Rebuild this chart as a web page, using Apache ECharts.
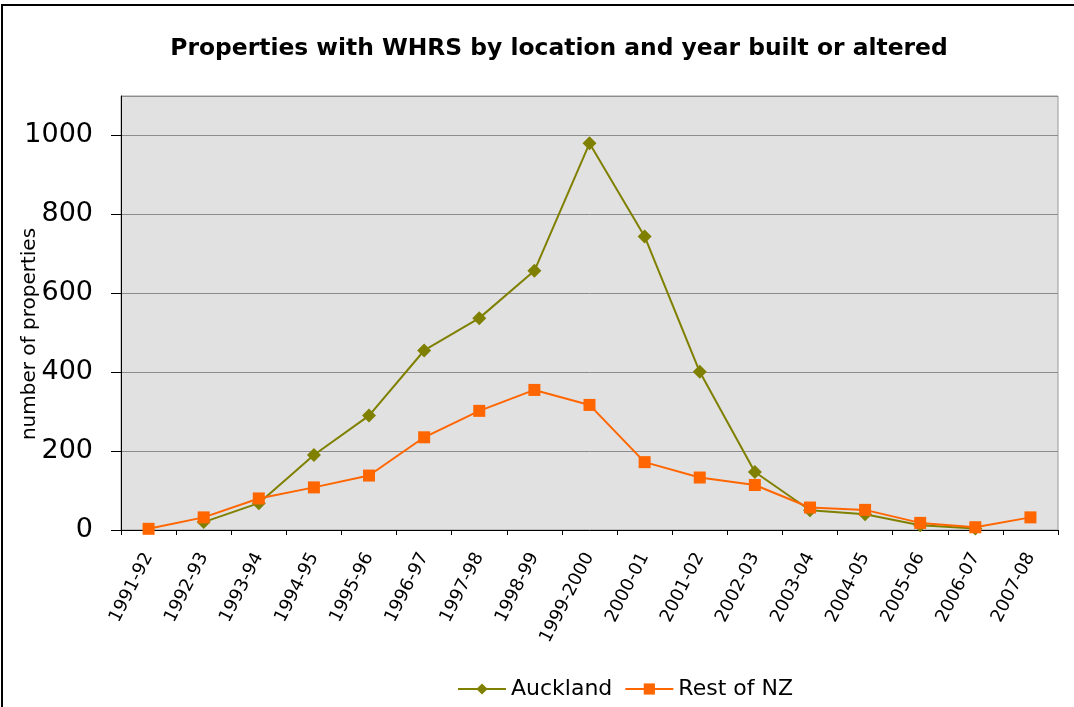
<!DOCTYPE html>
<html>
<head>
<meta charset="utf-8">
<style>
  html, body { margin: 0; padding: 0; background: #fff; }
  #chart { width: 1074px; height: 707px; }
</style>
<script src="https://cdn.jsdelivr.net/npm/echarts@6/dist/echarts.min.js"></script>
</head>
<body>
<div id="chart"></div>
<script>
// year built or altered
var years = ["1991-92", "1992-93", "1993-94", "1994-95", "1995-96", "1996-97",
  "1997-98", "1998-99", "1999-2000", "2000-01", "2001-02", "2002-03",
  "2003-04", "2004-05", "2005-06", "2006-07", "2007-08"];
var auckland = [null, 20, 68, 190, 290, 455, 537, 657, 980, 744, 401, 147, 50, 40, 12, 4, null];
var restOfNZ = [3, 32, 80, 108, 138, 235, 302, 355, 317, 172, 133, 114, 57, 51, 18, 7, 32];
var yTicks = [0, 200, 400, 600, 800, 1000];

var font = "DejaVu Sans, Liberation Sans, sans-serif";

var myChart = echarts.init(document.getElementById("chart"));
myChart.setOption({
  animation: false,
  textStyle: { fontFamily: font },
  title: {
    text: "Properties with WHRS by location and year built or altered",
    left: 554,
    textAlign: "center",
    top: 32,
    textStyle: { fontSize: 23.4, fontWeight: "bold", color: "#000", fontFamily: font }
  },
  graphic: [
    {
      type: "rect",
      shape: { x: 2, y: 5, width: 1100, height: 760 },
      style: { fill: "none", stroke: "#000", lineWidth: 2 },
      z: -1
    },
    {
      // y axis title
      type: "text",
      x: 30,
      y: 334,
      rotation: Math.PI / 2,
      style: {
        text: "number of properties",
        fontSize: 20,
        fontFamily: font,
        fill: "#000",
        align: "center",
        verticalAlign: "middle"
      }
    }
  ],
  legend: {
    bottom: 2,
    left: 452,
    itemWidth: 48,
    itemHeight: 14,
    itemGap: 12,
    textStyle: { fontSize: 22, color: "#000", fontFamily: font },
    data: ["Auckland", "Rest of NZ"]
  },
  grid: {
    left: 121,
    top: 96,
    width: 937,
    height: 434,
    show: true,
    backgroundColor: "#e1e1e1",
    borderColor: "#999",
    borderWidth: 1
  },
  xAxis: {
    type: "category",
    data: years,
    boundaryGap: true,
    axisLine: { lineStyle: { color: "#000", width: 1 } },
    axisTick: { show: true, length: 5, alignWithLabel: false, lineStyle: { color: "#000" } },
    axisLabel: {
      interval: 0,
      rotate: 63,
      fontSize: 18,
      color: "#000",
      margin: 24
    },
    splitLine: { show: false }
  },
  yAxis: {
    type: "value",
    min: 0,
    max: 1100,
    interval: 200,
    axisLine: { show: true, lineStyle: { color: "#000" } },
    axisTick: { show: true, length: 10, inside: false, lineStyle: { color: "#000" } },
    axisLabel: {
      fontSize: 27,
      color: "#000",
      margin: 28,
      showMaxLabel: false,
      formatter: function (v) { return yTicks.indexOf(v) >= 0 ? String(v) : ""; }
    },
    splitLine: { lineStyle: { color: "#8c8c8c", width: 1 } }
  },
  series: [
    {
      name: "Auckland",
      type: "line",
      data: auckland,
      symbol: "diamond",
      symbolSize: 14,
      color: "#808000",
      lineStyle: { color: "#808000", width: 2 },
      itemStyle: { color: "#808000" },
      z: 2
    },
    {
      name: "Rest of NZ",
      type: "line",
      data: restOfNZ,
      symbol: "rect",
      symbolSize: 12,
      color: "#ff6600",
      lineStyle: { color: "#ff6600", width: 2 },
      itemStyle: { color: "#ff6600" },
      z: 3
    }
  ]
});
</script>
</body>
</html>
